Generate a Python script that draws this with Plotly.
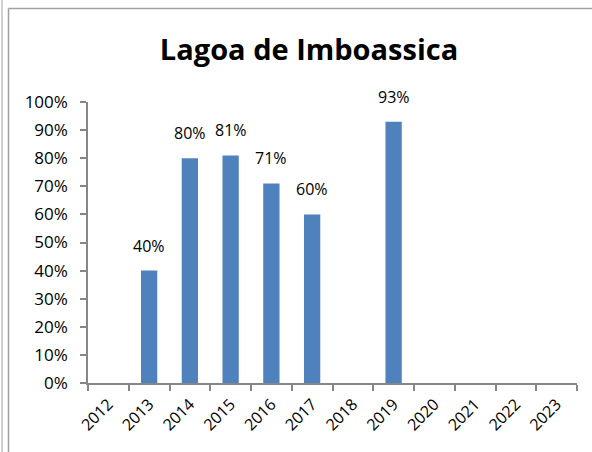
import plotly.graph_objects as go

years = ["2012", "2013", "2014", "2015", "2016", "2017", "2018", "2019", "2020", "2021", "2022", "2023"]
values = [None, 0.40, 0.80, 0.81, 0.71, 0.60, None, 0.93, None, None, None, None]
labels = ["", "40%", "80%", "81%", "71%", "60%", "", "93%", "", "", "", ""]
title_text = "Lagoa de Imboassica"

W, H = 592, 452
L, R, T, B = 88, 15, 102, 69
pw, ph = W - L - R, H - T - B

def px_x(p):
    return (p - L) / pw

def px_y(p):
    return (H - B - p) / ph

fig = go.Figure()
fig.add_trace(go.Bar(
    x=years, y=values,
    marker=dict(color="#4F81BD", line=dict(width=0)),
    hoverinfo="skip",
))

for i, (v, lab) in enumerate(zip(values, labels)):
    if v is not None and lab:
        fig.add_annotation(
            x=i, y=v, text=lab, showarrow=False,
            yanchor="bottom", yshift=12,
            font=dict(family="Open Sans", size=16, color="#000000"),
        )

line_col = "#A0A0A0"
fig.add_shape(type="line", xref="paper", yref="paper",
              x0=px_x(2), x1=px_x(2), y0=px_y(H), y1=px_y(0),
              line=dict(color="#C0C0C0", width=1.5))
fig.add_shape(type="line", xref="paper", yref="paper",
              x0=px_x(8.5), x1=px_x(8.5), y0=px_y(H), y1=px_y(8.5),
              line=dict(color=line_col, width=1.5))
fig.add_shape(type="line", xref="paper", yref="paper",
              x0=px_x(8.5), x1=px_x(W), y0=px_y(8.5), y1=px_y(8.5),
              line=dict(color=line_col, width=1.5))

fig.update_layout(
    width=W, height=H,
    margin=dict(l=L, r=R, t=T, b=B, autoexpand=False),
    paper_bgcolor="white", plot_bgcolor="white",
    showlegend=False,
    bargap=0.6,
    title=dict(text=title_text, x=309 / W, xanchor="center",
               y=1 - 50 / H, yanchor="middle",
               font=dict(family="Open Sans", size=29, color="#000000", weight=700)),
    font=dict(family="Open Sans", size=16, color="#000000"),
)
fig.update_xaxes(
    type="category", categoryorder="array", categoryarray=years,
    range=[-0.5, len(years) - 0.5], automargin=False,
    tickangle=-45, tickson="boundaries",
    showline=True, linecolor="#868686", linewidth=1.5,
    ticks="outside", ticklen=6, tickcolor="#868686", tickwidth=1.5,
    showgrid=False, zeroline=False,
    tickfont=dict(family="Open Sans", size=16, color="#000000"),
    ticklabelstandoff=4,
)
fig.update_yaxes(
    range=[0, 1], dtick=0.1, tickformat=".0%", automargin=False,
    showline=True, linecolor="#868686", linewidth=1.5,
    ticks="outside", ticklen=6, tickcolor="#868686", tickwidth=1.5,
    showgrid=False, zeroline=False,
    tickfont=dict(family="Open Sans", size=17, color="#000000"),
    ticklabelstandoff=9,
)

fig.write_html("out.html", config={"displayModeBar": False},
               post_script="document.body.style.margin='0';document.body.style.padding='0';")
